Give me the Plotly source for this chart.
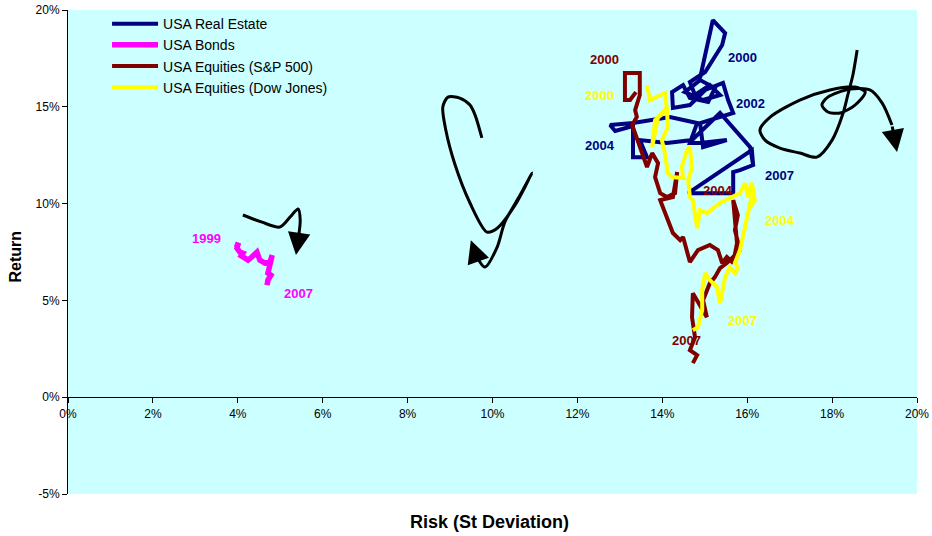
import plotly.graph_objects as go

# ---- data: risk (st dev, %) and return (%) ----
re_risk = [14.89, 15.19, 15.48, 15.41, 15.01, 14.65, 14.77, 15.12, 15.36, 14.96, 14.53, 14.89, 15.24, 15.08,
           14.65, 14.49, 14.23, 14.25, 14.65, 15.01, 15.43, 15.55, 15.67, 15.31, 14.89, 14.96, 15.52, 14.89,
           14.65, 14.82, 14.18, 13.31, 12.77, 12.89, 13.31, 13.31, 13.64, 13.47, 14.11, 14.70, 15.36, 16.07,
           16.14, 15.83, 15.67, 15.67, 14.61, 16.11, 16.14]
re_ret = [16.49, 19.48, 18.81, 18.19, 16.80, 16.28, 15.61, 16.12, 15.61, 15.35, 15.76, 16.38, 15.97, 15.25,
          15.45, 16.12, 15.76, 14.94, 15.09, 15.87, 16.23, 15.35, 14.68, 14.42, 14.16, 12.92, 13.28, 13.13,
          13.13, 14.16, 14.47, 14.16, 14.06, 13.75, 14.01, 12.40, 12.40, 13.28, 13.13, 13.28, 14.68, 12.92,
          11.99, 11.73, 11.63, 10.54, 10.54, 12.76, 11.99]

bond_risk = [3.93, 4.00, 3.98, 4.05, 4.12, 4.08, 4.17, 4.24, 4.33, 4.41, 4.38, 4.45, 4.52, 4.64, 4.76, 4.81,
             4.76, 4.71, 4.78, 4.71, 4.69]
bond_ret = [7.91, 7.85, 7.70, 7.49, 7.44, 7.30, 7.18, 7.08, 7.24, 7.44, 7.30, 7.49, 7.08, 6.93, 6.98, 7.34,
            6.93, 6.41, 6.30, 6.05, 5.79]

sp_risk = [13.38, 13.24, 13.12, 13.12, 13.47, 13.47, 13.36, 13.40, 13.29, 13.36, 13.47, 13.64, 13.76, 13.90,
           13.83, 13.95, 14.11, 14.30, 14.35, 14.25, 13.95, 14.25, 14.42, 14.49, 14.65, 14.84, 15.12, 15.31,
           15.41, 15.52, 15.67, 15.76, 15.67, 15.78, 15.71, 15.83, 15.64, 15.52, 15.36, 15.24, 15.12, 14.96,
           15.05, 14.89, 14.72, 14.70, 14.77, 14.65, 14.82, 14.72]
sp_ret = [15.76, 15.35, 15.35, 16.74, 16.74, 15.61, 14.83, 14.47, 14.06, 13.64, 12.92, 11.89, 12.61, 12.09,
          11.37, 10.54, 10.34, 10.54, 11.63, 10.34, 10.18, 8.48, 8.11, 8.27, 6.98, 7.60, 7.86, 7.60,
          6.93, 7.24, 6.93, 7.96, 10.18, 9.41, 8.63, 7.60, 7.18, 6.93, 6.67, 6.20, 5.89, 5.01,
          4.13, 4.75, 5.37, 4.13, 3.10, 2.43, 2.17, 1.76]

dj_risk = [13.64, 13.71, 14.06, 14.11, 13.83, 13.76, 13.90, 14.11, 14.13, 13.99, 14.06, 14.13, 14.23, 14.49,
           14.46, 14.58, 14.65, 14.70, 14.61, 14.65, 14.72, 14.82, 14.89, 15.05, 15.36, 15.64, 15.83, 15.95,
           16.02, 16.07, 16.11, 16.18, 16.07, 16.14, 15.95, 15.83, 15.71, 15.78, 15.71, 15.59, 15.48, 15.36,
           15.29, 15.12, 15.01, 14.94, 14.94, 14.84, 14.72]
dj_ret = [16.12, 15.35, 15.71, 14.83, 14.32, 12.92, 14.47, 14.99, 13.95, 13.28, 12.61, 11.58, 11.37, 11.32,
          11.89, 12.76, 12.92, 11.89, 11.21, 10.34, 10.18, 8.73, 9.66, 9.51, 10.03, 10.34, 10.54, 11.06,
          10.34, 10.85, 11.06, 10.18, 9.82, 10.70, 8.79, 7.60, 6.93, 6.72, 6.41, 6.72, 6.20, 4.86,
          5.68, 6.05, 6.41, 5.53, 4.50, 3.62, 3.46]

series_names = ["USA Real Estate", "USA Bonds", "USA Equities (S&P 500)", "USA Equities (Dow Jones)"]
series_colors = ["#000080", "#FF00FF", "#800000", "#FFFF00"]
series_widths = [4, 5.5, 4, 4]

# year labels
year_text = ["2000", "2002", "2004", "2007", "1999", "2007", "2000", "2004", "2007", "2000", "2004", "2007"]
year_risk = [15.88, 16.07, 12.53, 16.77, 3.27, 5.44, 12.65, 15.31, 14.56, 12.53, 16.77, 15.90]
year_ret = [17.57, 15.19, 13.02, 11.47, 8.22, 5.37, 17.42, 10.70, 2.95, 15.56, 9.15, 3.98]
year_series = [0, 0, 0, 0, 1, 1, 2, 2, 2, 3, 3, 3]

# axis ticks
x_ticks = [0, 2, 4, 6, 8, 10, 12, 14, 16, 18, 20]
x_labels = ["0%", "2%", "4%", "6%", "8%", "10%", "12%", "14%", "16%", "18%", "20%"]
y_ticks = [-5, 0, 5, 10, 15, 20]
y_labels = ["-5%", "0%", "5%", "10%", "15%", "20%"]

# decorative arrows (risk, return), last point = arrow tip
arrow1_risk = [4.12, 4.57, 4.99, 5.23, 5.42, 5.47, 5.42, 5.37]
arrow1_ret = [9.41, 9.04, 8.79, 9.30, 9.72, 9.15, 8.11, 7.34]
arrow2_risk = [9.75, 9.59, 9.47, 9.23, 8.95, 8.83, 8.90, 9.12, 9.47, 9.87, 10.11, 10.53, 10.93, 10.65, 10.29,
               10.11, 9.82, 9.63, 9.49]
arrow2_ret = [13.39, 14.57, 15.09, 15.45, 15.50, 14.99, 13.80, 11.99, 10.03, 8.53, 8.73, 9.92, 11.58, 10.44,
              9.04, 7.75, 6.72, 7.24, 8.11]
arrow3_risk = [18.59, 18.49, 18.37, 18.26, 18.00, 17.64, 17.24, 16.77, 16.42, 16.30, 16.54, 17.24, 17.95, 18.54,
               18.78, 18.54, 18.19, 17.90, 17.76, 17.90, 18.42, 18.89, 19.18, 19.41, 19.53]
arrow3_ret = [17.93, 16.64, 15.61, 14.68, 13.28, 12.40, 12.61, 12.87, 13.28, 13.80, 14.47, 15.35, 15.87, 16.02,
              15.76, 15.09, 14.68, 14.73, 15.09, 15.50, 15.92, 15.87, 15.19, 14.06, 12.66]

FONT = "Liberation Sans, Arial, sans-serif"

fig = go.Figure()

for xs, ys in [(arrow1_risk, arrow1_ret), (arrow2_risk, arrow2_ret), (arrow3_risk, arrow3_ret)]:
    fig.add_trace(go.Scatter(x=xs[:-1], y=ys[:-1], mode="lines", showlegend=False, hoverinfo="skip",
                             line=dict(color="black", width=3, shape="spline", smoothing=0.8)))
    fig.add_annotation(x=xs[-1], y=ys[-1], ax=xs[-2], ay=ys[-2], xref="x", yref="y", axref="x", ayref="y",
                       text="", showarrow=True, arrowhead=2, arrowsize=1.5, arrowwidth=3, arrowcolor="black")

data = [(re_risk, re_ret), (bond_risk, bond_ret), (sp_risk, sp_ret), (dj_risk, dj_ret)]
for i in range(4):
    xs, ys = data[i]
    fig.add_trace(go.Scatter(x=xs, y=ys, mode="lines", name=series_names[i],
                             line=dict(color=series_colors[i], width=series_widths[i])))

for t, xv, yv, s in zip(year_text, year_risk, year_ret, year_series):
    fig.add_annotation(x=xv, y=yv, xref="x", yref="y", text="<b>%s</b>" % t, showarrow=False,
                       font=dict(family=FONT, size=13, color=series_colors[s]))

fig.add_annotation(xref="paper", yref="paper", x=0.496, y=-0.083, text="<b>Risk (St Deviation)</b>",
                   showarrow=False, font=dict(family=FONT, size=18, color="black"))
fig.add_annotation(xref="paper", yref="paper", x=-0.074, y=0.49, text="<b>Return</b>", textangle=-90,
                   showarrow=False, font=dict(family=FONT, size=16, color="black"))

fig.update_layout(
    width=932, height=536,
    margin=dict(l=68, r=15, t=10, b=42, autoexpand=False),
    paper_bgcolor="white", plot_bgcolor="#CCFFFF",
    font=dict(family=FONT, size=13, color="black"),
    legend=dict(x=0.046, y=1.004, xanchor="left", yanchor="top", bgcolor="rgba(0,0,0,0)",
                font=dict(family=FONT, size=14), itemwidth=46, tracegroupgap=0),
    showlegend=True,
)
fig.update_xaxes(range=[0, 20], tickmode="array", tickvals=x_ticks, ticktext=x_labels,
                 showgrid=False, zeroline=False, automargin=False,
                 showline=True, linecolor="black", linewidth=1, ticks="outside", ticklen=5,
                 tickcolor="black", anchor="free", position=0.2,
                 tickfont=dict(family=FONT, size=12))
fig.update_yaxes(range=[-5, 20], tickmode="array", tickvals=y_ticks, ticktext=y_labels,
                 showgrid=False, zeroline=False, automargin=False,
                 showline=True, linecolor="black", linewidth=1, ticks="outside", ticklen=5,
                 tickcolor="black", tickfont=dict(family=FONT, size=12))

fig.write_html("out.html", config={"displayModeBar": False},
               post_script="document.body.style.margin='0';document.body.style.overflow='hidden';")
